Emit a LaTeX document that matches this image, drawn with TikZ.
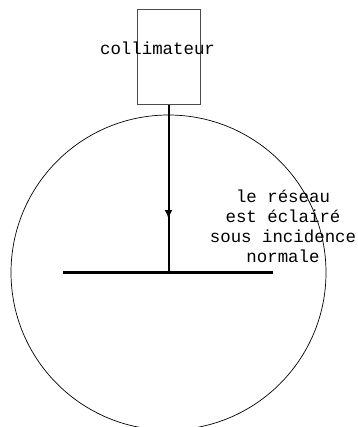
\documentclass[tikz,border=0pt]{standalone}
\usepackage{fontspec}
\setmonofont{Liberation Mono}
\usetikzlibrary{arrows.meta}

\begin{document}
\begin{tikzpicture}[x=1pt, y=-1pt,
    txt/.style={font=\fontsize{17.4}{20}\selectfont\ttfamily, inner sep=0pt, align=center},
    tube/.style={draw=black!70, line width=1pt, minimum width=63pt, minimum height=95pt, inner sep=0pt}]
  \useasboundingbox (0,0) rectangle (357,427);

  % --- collimator and its label ---
  \node[tube] (coll) at (168.5,57.5) {};
  \node[txt] (colltxt) at (157.5,48) {collimateur};

  % --- goniometer circle and grating ---
  \coordinate (ctr) at (168.5,272.5);
  \draw[line width=0.7pt] (ctr) circle (157.5);
  \coordinate (gl) at (63,272.7);
  \coordinate (gr) at (273,272.7);
  \coordinate (g) at (168.5,272.7);
  \draw[line width=3pt] (gl) -- (gr);

  % --- incident beam, arrow tip part way down ---
  \coordinate (tip) at (168.5,219);
  \draw[line width=2pt] (coll.south) -- (g);
  \draw[line width=2pt, -{Latex[length=9pt, width=8pt]}] (coll.south) -- (tip);

  \node[txt] (note) at (283,226)
    {le réseau\\est éclairé\\sous incidence\\normale};
\end{tikzpicture}
\end{document}
